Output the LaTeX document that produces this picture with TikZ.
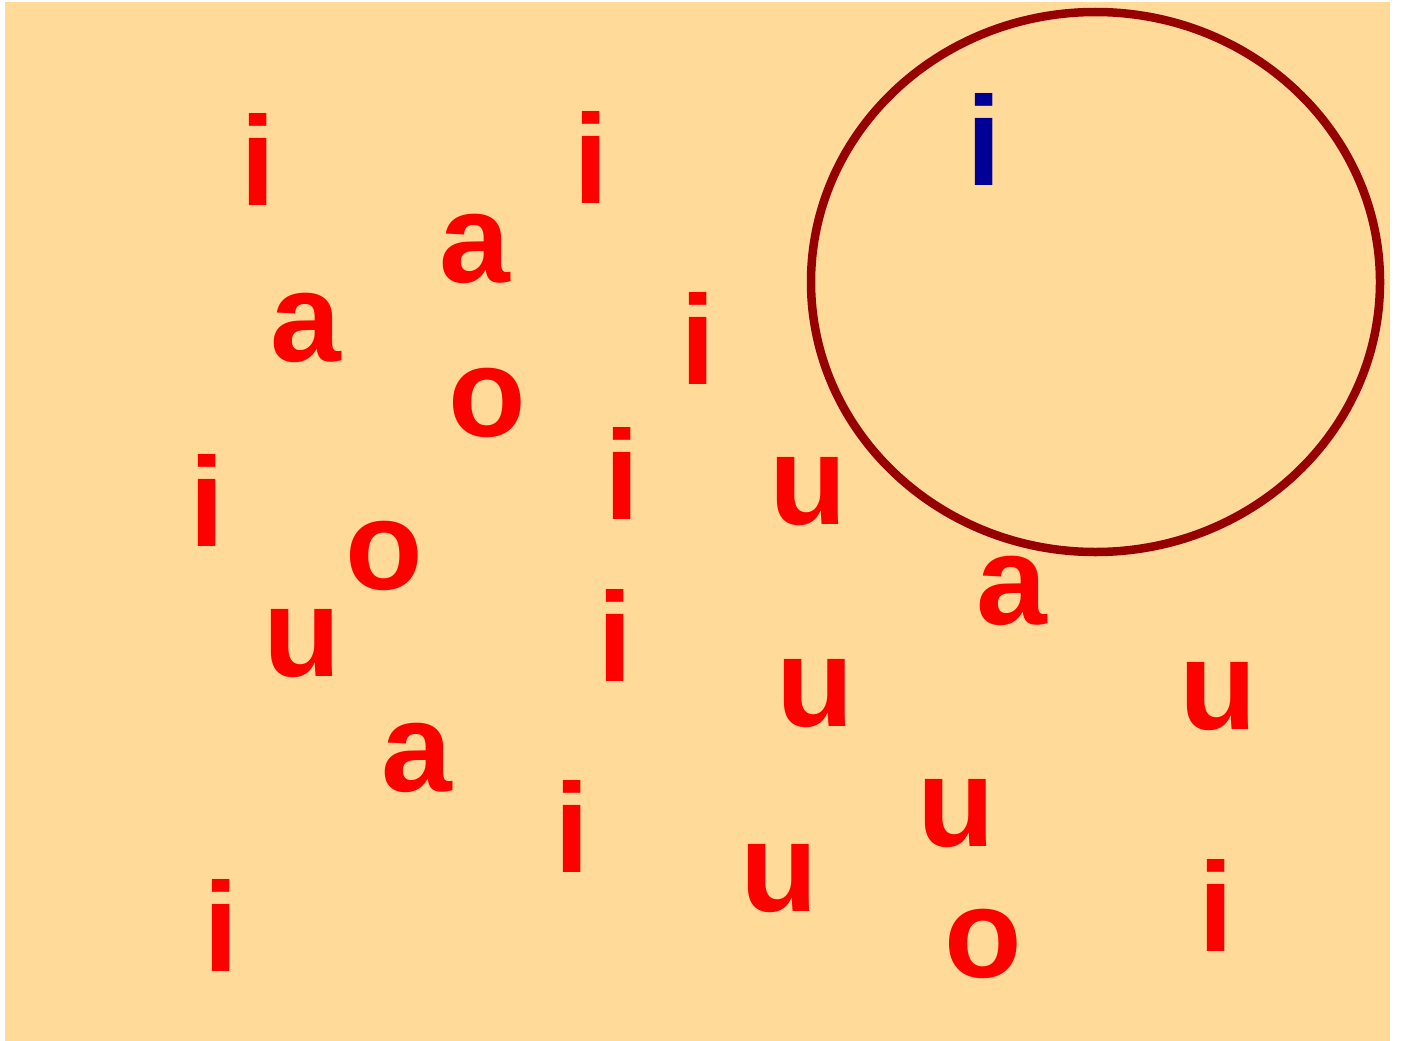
\documentclass[tikz,border=0pt]{standalone}
\usepackage{fontspec}
\setmainfont{Liberation Sans}
\definecolor{sandbg}{RGB}{255, 218, 152}
\definecolor{vowelred}{RGB}{255, 0, 0}
\definecolor{ringred}{RGB}{150, 0, 0}
\definecolor{pickblue}{RGB}{0, 0, 150}
\usetikzlibrary{shapes.geometric}

\begin{document}
\begin{tikzpicture}[x=1pt, y=-1pt,
    vowel/.style={text=vowelred, font=\bfseries\fontsize{127}{127}\selectfont, inner sep=0pt, anchor=base},
    picked/.style={vowel, text=pickblue},
    ring/.style={draw=ringred, line width=8.5pt, ellipse, inner sep=0pt, minimum width=569pt, minimum height=540pt}]
  \useasboundingbox (0,0) rectangle (1405,1041);
  \fill[sandbg] (5,2) rectangle (1390,1041);
  % scattered vowels: letter / x / baseline
  \foreach \ch/\px/\py [count=\k] in {
      i/258/205, i/591/203, a/475/282, a/306/361, i/698/384,
      o/487/436, i/207/546, i/622/519, u/808/524, o/384/589,
      u/302/676, i/615/681, a/1012/624, u/815/726, u/1218/729,
      a/417/791, i/572/872, u/956/846, u/779/911, i/221/971,
      o/983/977, i/1216/951}
    \node[vowel] (v\k) at (\px,\py) {\ch};
  % the ring and the one letter inside it
  \node[ring] (field) at (1095.5,282) {};
  \node[picked] (pick) at (984,185) {i};
\end{tikzpicture}
\end{document}
